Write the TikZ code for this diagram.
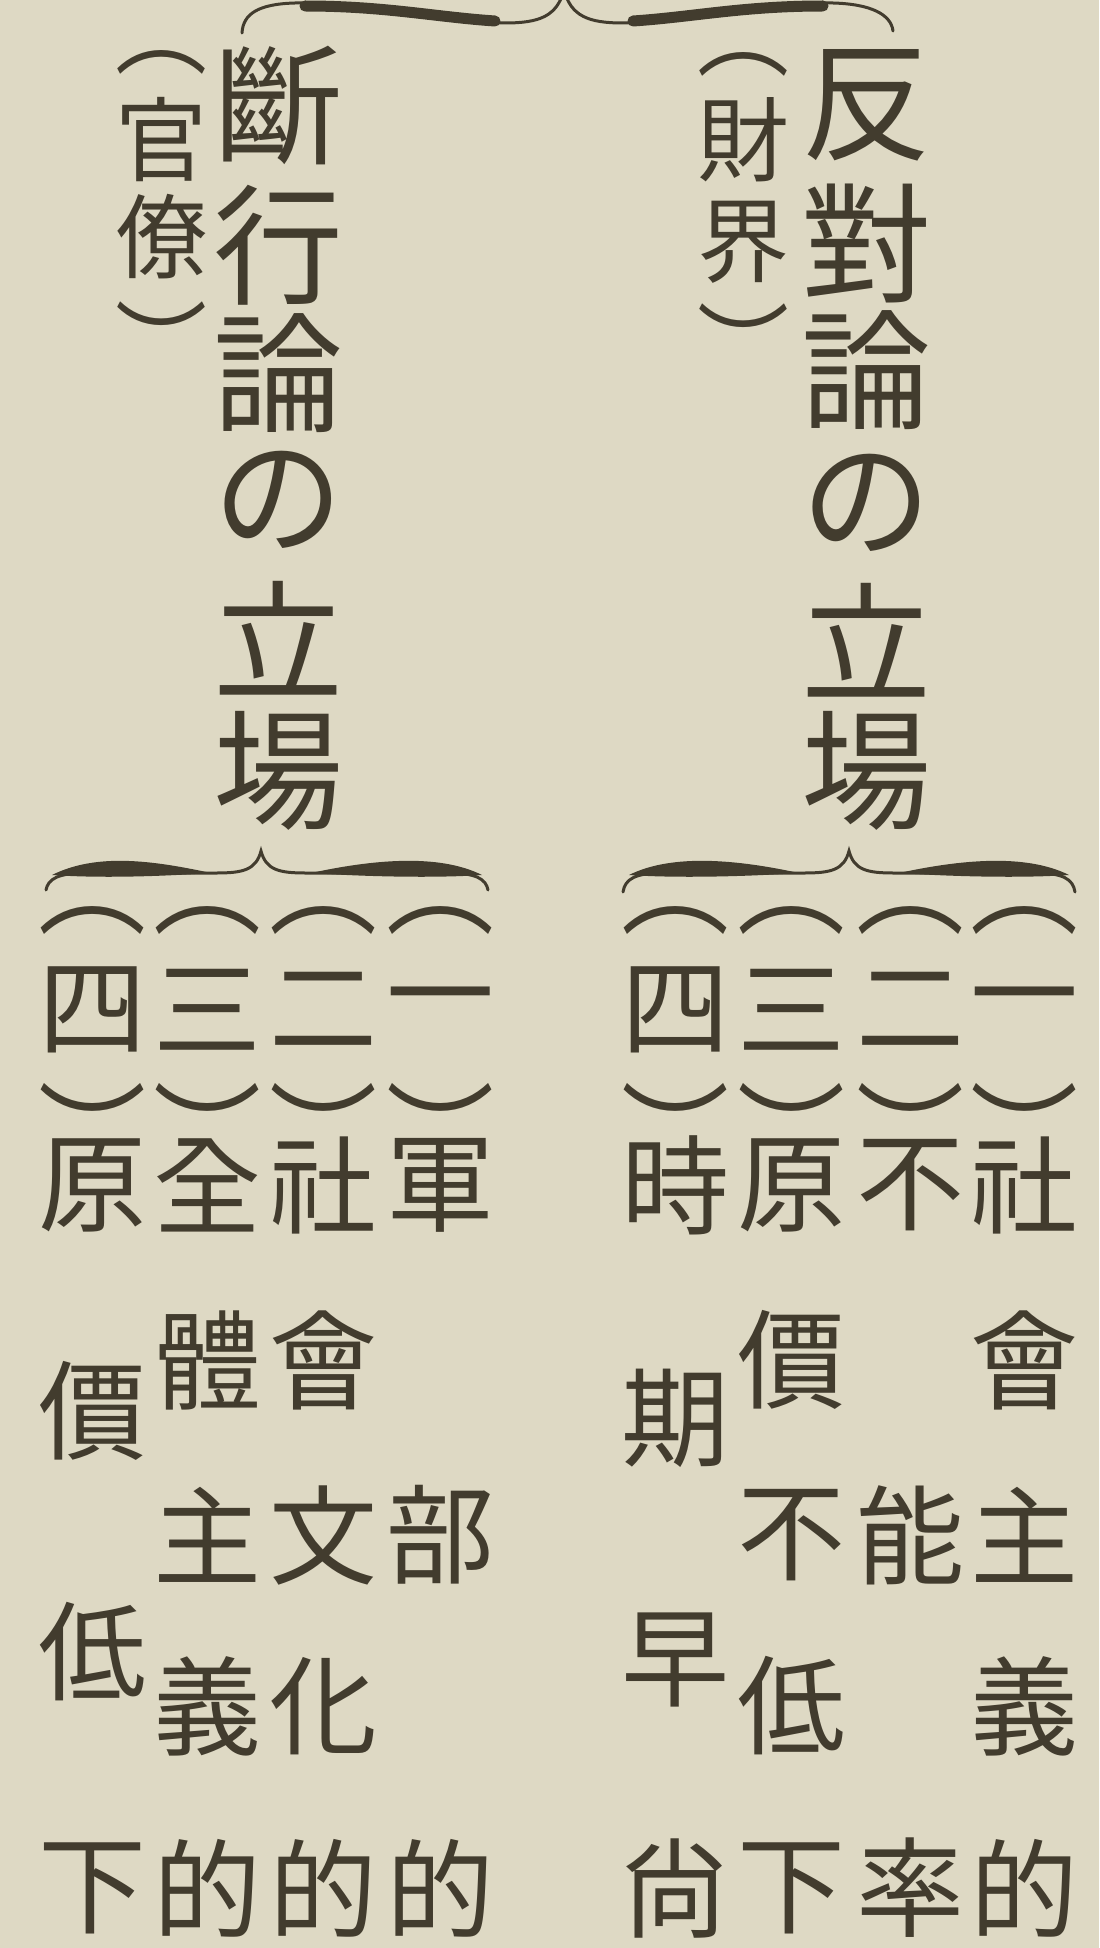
\documentclass[tikz,border=0pt]{standalone}
\usepackage{fontspec}
\newfontfamily\jp{Noto Sans CJK JP}
\newfontfamily\kr{Noto Sans CJK KR}
\definecolor{paper}{RGB}{222,217,196}
\definecolor{ink}{RGB}{66,60,46}
\tikzset{
  glyph/.style={inner sep=0pt, outer sep=0pt, text=ink, anchor=center},
  bigch/.style={glyph, font=\jp\fontsize{65pt}{65pt}\selectfont},
  smallch/.style={glyph, font=\jp\fontsize{46pt}{46pt}\selectfont},
  midch/.style={glyph, font=\jp\fontsize{54pt}{54pt}\selectfont},
  smallarc/.style={smallch},
  midarc/.style={midch},
  bracethin/.style={draw=ink, line width=1.5pt, line cap=round},
  bracethick/.style={draw=ink, line width=5.5pt, line cap=round},
}
\newcommand{\ovbrace}[6]{% left x, cusp x, right x, cusp y, body y, end y
  \draw[bracethin] (#1,#6) .. controls (#1+2,#5+6) and (#1+12,#5) .. (#1+40,#5)
     -- (#2-45,#5) .. controls (#2-18,#5) and (#2-5,#5-3) .. (#2,#4)
     .. controls (#2+5,#5-3) and (#2+18,#5) .. (#2+45,#5)
     -- (#3-40,#5) .. controls (#3-12,#5) and (#3-2,#5+6) .. (#3,#6);
  \fill[ink] (#1+6,#5+2) .. controls (#1+50,#5-20) and (#2-110,#5-13) .. (#2-50,#5)
     .. controls (#2-110,#5+4) and (#1+50,#5+5) .. cycle;
  \fill[ink] (#3-6,#5+2) .. controls (#3-50,#5-20) and (#2+110,#5-13) .. (#2+50,#5)
     .. controls (#2+110,#5+4) and (#3-50,#5+5) .. cycle;
}
\begin{document}
\begin{tikzpicture}[x=0.5pt,y=-0.5pt]
\fill[paper] (0,0) rectangle (1099,1948);
\useasboundingbox (0,0) rectangle (1099,1948);
\clip (0,0) rectangle (1099,1948);

% top brace
\draw[bracethin] (242,33) .. controls (243,14) and (258,4) .. (295,3)
   .. controls (380,2) and (440,22) .. (505,23)
   .. controls (540,23) and (557,16) .. (564,-10);
\draw[bracethin] (564,-10) .. controls (571,16) and (588,23) .. (623,23)
   .. controls (688,22) and (748,2) .. (833,3)
   .. controls (870,4) and (891,14) .. (893,31);
\draw[bracethick] (305,6) .. controls (385,6) and (435,17) .. (495,21);
\draw[bracethick] (633,21) .. controls (693,17) and (743,6) .. (823,6);

% left heading
\node[smallarc] (lpo) at (161,62) {︵};
\node[smallch] (lp1) at (161,140) {官};
\node[smallch] (lp2) at (161,237) {僚};
\node[smallarc] (lpc) at (161,340) {︶};
\node[bigch] (l1) at (278,105) {斷};
\node[bigch] (l2) at (278,245) {行};
\node[bigch] (l3) at (278,373) {論};
\node[bigch] (l4) at (278,500) {の};
\node[bigch] (l5) at (278,638) {立};
\node[bigch] (l6) at (278,771) {場};

% right heading
\node[smallarc] (rpo) at (743,64) {︵};
\node[smallch] (rp1) at (743,140) {財};
\node[smallch] (rp2) at (743,242) {界};
\node[smallarc] (rpc) at (743,342) {︶};
\node[bigch] (r1) at (866,105) {反};
\node[bigch] (r2) at (866,243) {對};
\node[bigch] (r3) at (866,370) {論};
\node[bigch] (r4) at (866,503) {の};
\node[bigch] (r5) at (866,640) {立};
\node[bigch] (r6) at (866,771) {場};

% middle braces
\ovbrace{46}{261}{488}{851}{873}{890}
\ovbrace{623}{849}{1075}{851}{873}{892}

% left numbered parens
\foreach \x/\n/\k in {93/四/a, 207/三/b, 323/二/c, 440/一/d} {
  \node[midarc] (lo\k) at (\x,920) {︵};
  \node[midch] (ln\k) at (\x,1010) {\n};
  \node[midarc] (lc\k) at (\x,1128) {︶};
}
% right numbered parens
\foreach \x/\n/\k in {675/四/a, 791/三/b, 910/二/c, 1024/一/d} {
  \node[midarc] (ro\k) at (\x,920) {︵};
  \node[midch] (rn\k) at (\x,1010) {\n};
  \node[midarc] (rc\k) at (\x,1128) {︶};
}

% left items
\node[midch] (la1) at (93,1185) {原};
\node[midch] (la2) at (93,1411) {價};
\node[midch] (la3) at (93,1652) {低};
\node[midch] (la4) at (93,1888) {下};
\node[midch] (lb1) at (207,1185) {\kr 全};
\node[midch] (lb2) at (207,1360) {體};
\node[midch] (lb3) at (207,1535) {主};
\node[midch] (lb4) at (207,1706) {義};
\node[midch] (lb5) at (207,1888) {的};
\node[midch] (lc1) at (323,1185) {\kr 社};
\node[midch] (lc2) at (323,1360) {會};
\node[midch] (lc3) at (323,1535) {文};
\node[midch] (lc4) at (323,1706) {化};
\node[midch] (lc5) at (323,1888) {的};
\node[midch] (ld1) at (440,1185) {軍};
\node[midch] (ld3) at (440,1535) {部};
\node[midch] (ld5) at (440,1888) {的};

% right items
\node[midch] (ra1) at (675,1185) {時};
\node[midch] (ra2) at (675,1418) {期};
\node[midch] (ra3) at (675,1660) {早};
\node[midch] (ra4) at (675,1888) {尙};
\node[midch] (rb1) at (791,1185) {原};
\node[midch] (rb2) at (791,1360) {價};
\node[midch] (rb3) at (791,1535) {不};
\node[midch] (rb4) at (791,1706) {低};
\node[midch] (rb5) at (791,1888) {下};
\node[midch] (rc1) at (910,1185) {不};
\node[midch] (rc3) at (910,1535) {能};
\node[midch] (rc5) at (910,1888) {率};
\node[midch] (rd1) at (1024,1185) {\kr 社};
\node[midch] (rd2) at (1024,1360) {會};
\node[midch] (rd3) at (1024,1535) {主};
\node[midch] (rd4) at (1024,1706) {義};
\node[midch] (rd5) at (1024,1888) {的};
\end{tikzpicture}
\end{document}
